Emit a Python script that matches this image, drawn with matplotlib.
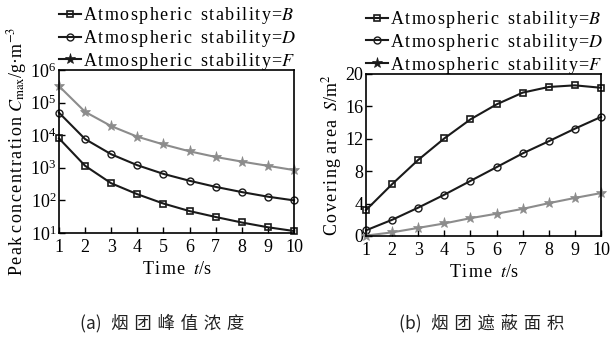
import numpy as np
import matplotlib
matplotlib.use("Agg")
import matplotlib.pyplot as plt

plt.rcParams["font.family"] = ["Liberation Serif", "DejaVu Serif"]
plt.rcParams["mathtext.fontset"] = "stix"

# ── data ──────────────────────────────────────────────────────────────────
t = [1, 2, 3, 4, 5, 6, 7, 8, 9, 10]
labels = ["B", "D", "F"]

conc_B = [8000, 1150, 335, 155, 80, 47, 31, 21, 15, 11.5]
conc_D = [49000, 7600, 2600, 1200, 650, 400, 260, 180, 130, 100]
conc_F = [320000, 52000, 19000, 9000, 5200, 3200, 2150, 1550, 1150, 850]

area_B = [3.2, 6.4, 9.4, 12.05, 14.4, 16.25, 17.7, 18.4, 18.6, 18.3]
area_D = [0.7, 2.0, 3.5, 5.1, 6.8, 8.5, 10.2, 11.7, 13.25, 14.7]
area_F = [0.05, 0.45, 1.0, 1.55, 2.2, 2.75, 3.35, 4.05, 4.7, 5.3]

xticks = [1, 2, 3, 4, 5, 6, 7, 8, 9, 10]
area_ticks = [0, 4, 8, 12, 16, 20]
conc_ticks = [1e1, 1e2, 1e3, 1e4, 1e5, 1e6]

captions = ["(a)", "烟团峰值浓度"], ["(b)", "烟团遮蔽面积"]

# ── styles ────────────────────────────────────────────────────────────────
styles = [
    dict(color="#1a1a1a", marker="s", mfc="none", ms=5, mew=1.2),
    dict(color="#1a1a1a", marker="o", mfc="none", ms=5, mew=1.0),
    dict(color="#8c8c8c", marker="*", mfc="#8c8c8c", ms=8, mew=0.5),
]

W, H = 611, 340
fig = plt.figure(figsize=(W / 100, H / 100), dpi=100)
HAIR = "\u200a"
GAP = "\u2004"


def spaced(s):
    # wide letter spacing like the printed figure
    return HAIR.join(s)


def px_axes(x0, y0, x1, y1):
    return fig.add_axes([x0 / W, 1 - y1 / H, (x1 - x0) / W, (y1 - y0) / H])


def style_axes(ax):
    ax.tick_params(direction="in", length=4, width=1, labelsize=13,
                   top=False, right=False, pad=2)
    ax.tick_params(axis="x", pad=4)
    for s in ax.spines.values():
        s.set_linewidth(1.2)
    ax.set_xlim(1, 10)
    ax.set_xticks(xticks)
    ax.set_xlabel(spaced("Time") + "  $t$/s", fontsize=13, labelpad=4)


def add_legend(ax, handles):
    texts = [spaced("Atmospheric") + "  " + spaced("stability=") + f"${l}$"
             for l in labels]
    leg = ax.legend(handles, texts,
                    loc="lower left", bbox_to_anchor=(0.0, 0.99),
                    frameon=False, fontsize=13, handlelength=1.2,
                    handletextpad=0.15, labelspacing=0.1, borderpad=0,
                    borderaxespad=0)
    for h in leg.legend_handles:
        h.set_color("#1a1a1a")
        h.set_markeredgecolor("#1a1a1a")
        if h.get_marker() == "*":
            h.set_markerfacecolor("#1a1a1a")


# ── (a) peak concentration ───────────────────────────────────────────────
ax1 = px_axes(59, 70, 294, 233)
hs = []
for y, st in zip([conc_B, conc_D, conc_F], styles):
    hs.append(ax1.plot(t, y, lw=1.5, clip_on=False, **st)[0])
ax1.set_yscale("log")
ax1.set_ylim(1e1, 1e6)
ax1.set_yticks(conc_ticks)
ax1.yaxis.set_minor_locator(matplotlib.ticker.NullLocator())
style_axes(ax1)
ax1.set_ylabel(spaced("Peak") + " " + spaced("concentration")
               + " $C_{\\mathrm{max}}$/g·m$^{-3}$", fontsize=13, labelpad=1)
add_legend(ax1, hs)

# ── (b) covering area ────────────────────────────────────────────────────
ax2 = px_axes(366, 74, 601, 236)
hs = []
for y, st in zip([area_B, area_D, area_F], styles):
    hs.append(ax2.plot(t, y, lw=1.5, clip_on=False, **st)[0])
ax2.set_ylim(0, 20)
ax2.set_yticks(area_ticks)
style_axes(ax2)
ax2.set_ylabel(spaced("Covering") + " " + spaced("area") + "  $S$/m$^2$",
               fontsize=13, labelpad=1)
add_legend(ax2, hs)

# ── captions ─────────────────────────────────────────────────────────────
cap_font = ["Noto Sans CJK SC", "DejaVu Sans"]
for (tag, cn), xc in zip(captions, [162, 482]):
    fig.text(xc / W, 1 - 323 / H, tag + " " + GAP + GAP.join(cn), ha="center",
             va="center", fontsize=12.5, family=cap_font, color="#222222")

fig.savefig("out.png", dpi=100)
